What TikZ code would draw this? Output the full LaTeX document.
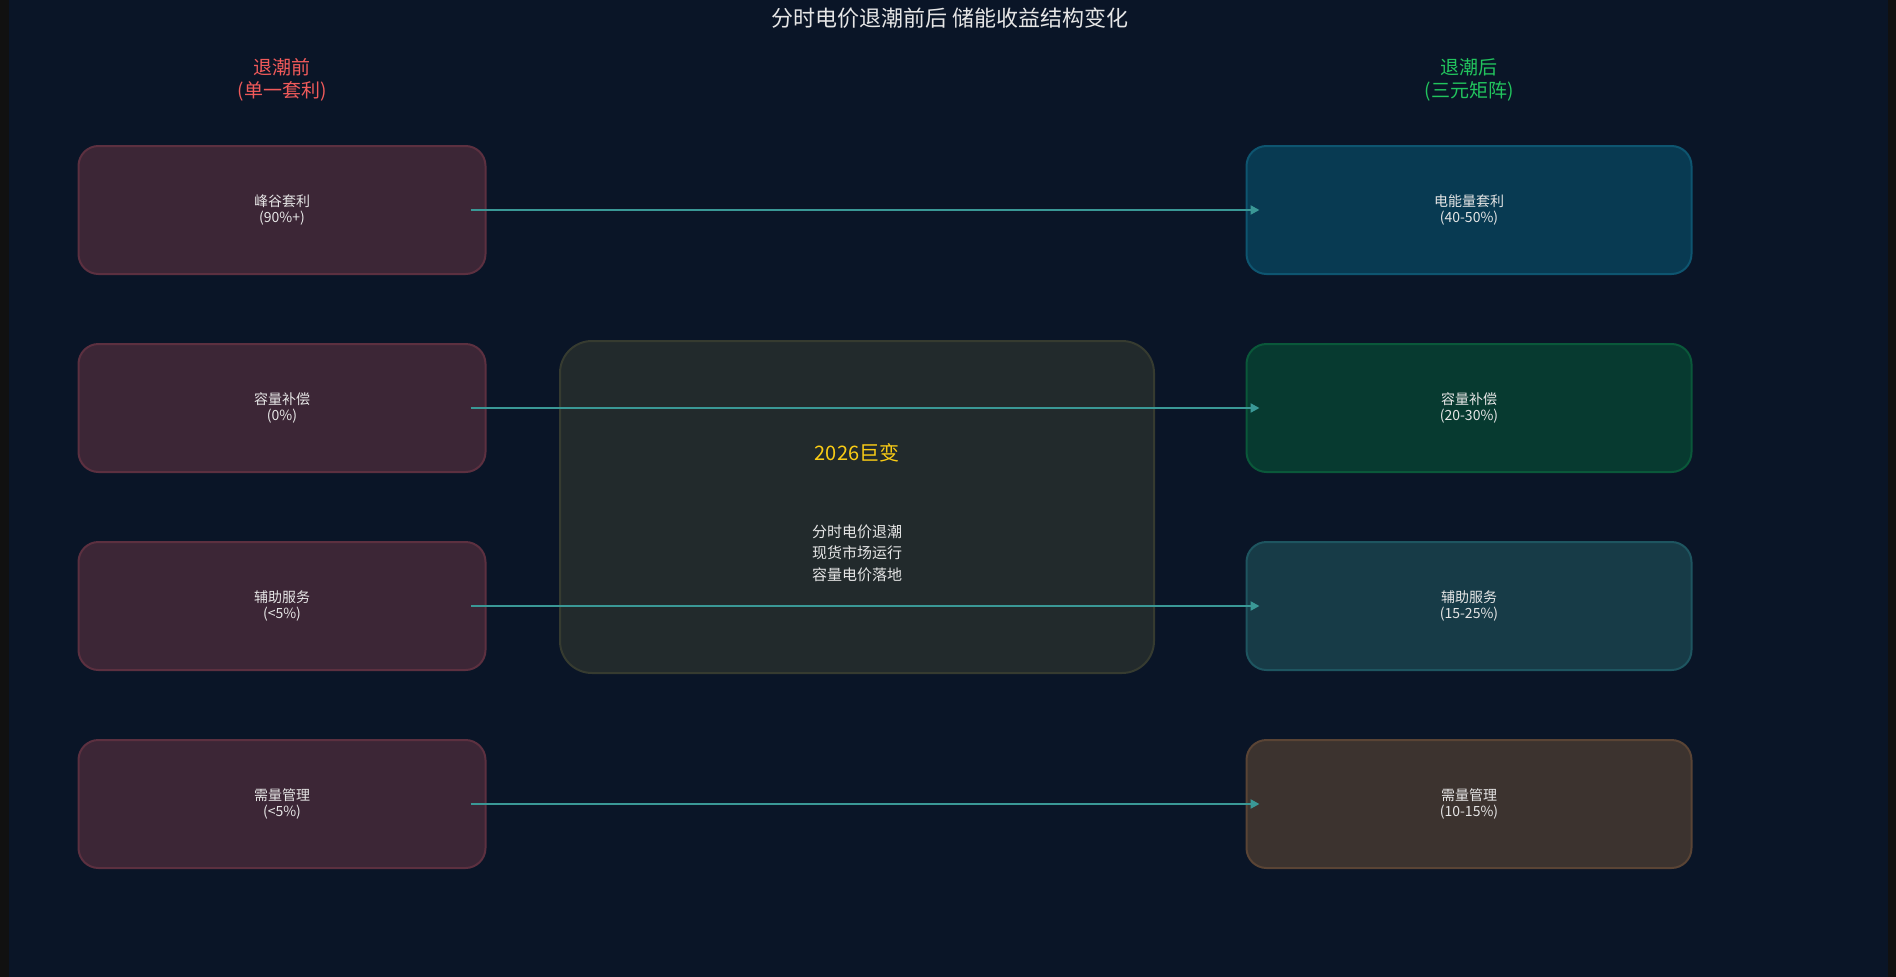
\documentclass[tikz,border=0pt]{standalone}
\usepackage{fontspec}
\setmainfont{Noto Sans CJK SC}
\usetikzlibrary{arrows.meta}
\definecolor{bg}{HTML}{0A1527}
\definecolor{strip}{HTML}{111111}
\definecolor{lfill}{HTML}{3C2636}
\definecolor{ldraw}{HTML}{5C3040}
\definecolor{cfill}{HTML}{222A2C}
\definecolor{cdraw}{HTML}{363B30}
\definecolor{arr}{HTML}{3A9896}
\definecolor{hred}{HTML}{F05A5A}
\definecolor{hgreen}{HTML}{22C55E}
\definecolor{ylw}{HTML}{FACC15}
\definecolor{txt}{HTML}{E6E6E6}
\begin{document}
\begin{tikzpicture}[x=1pt,y=-1pt,
 box/.style={rounded corners=20pt,line width=2pt,minimum width=407pt,minimum height=128pt,align=center,text=txt,font=\fontsize{14}{16}\selectfont},
 lbox/.style={box,fill=lfill,draw=ldraw},
 rbox/.style={box,minimum width=445pt},
 hdr/.style={align=center,font=\fontsize{19}{23}\selectfont},
 link/.style={arr,line width=2.5pt,-{Triangle[length=9pt,width=9pt]}}]
\fill[strip] (0,0) rectangle (1896,977);
\fill[bg] (9,0) rectangle (1888,977);
\useasboundingbox (0,0) rectangle (1896,977);
\node[text=txt,font=\fontsize{22}{26}\selectfont] (title) at (950,18) {分时电价退潮前后 储能收益结构变化};
\node[hdr,text=hred] (hl) at (282,80) {退潮前\\(单一套利)};
\node[hdr,text=hgreen] (hr) at (1469,80) {退潮后\\(三元矩阵)};
\node[rounded corners=32pt,line width=2pt,fill=cfill,draw=cdraw,minimum width=594pt,minimum height=332pt] (mid) at (857,507) {};
\node[text=ylw,font=\fontsize{20}{24}\selectfont] (mt) at (857,453) {2026巨变};
\node[text=txt,align=center,font=\fontsize{15}{21.5}\selectfont] (ms) at (857,553) {分时电价退潮\\现货市场运行\\容量电价落地};
\node[lbox] (l1) at (282,210) {峰谷套利\\(90\%+)};
\node[lbox] (l2) at (282,408) {容量补偿\\(0\%)};
\node[lbox] (l3) at (282,606) {辅助服务\\(<5\%)};
\node[lbox] (l4) at (282,804) {需量管理\\(<5\%)};
\node[rbox,fill={rgb,255:red,8;green,58;blue,82},draw={rgb,255:red,14;green,85;blue,112}] (r1) at (1469,210) {电能量套利\\(40-50\%)};
\node[rbox,fill={rgb,255:red,7;green,58;blue,48},draw={rgb,255:red,10;green,88;blue,58}] (r2) at (1469,408) {容量补偿\\(20-30\%)};
\node[rbox,fill={rgb,255:red,23;green,59;blue,71},draw={rgb,255:red,30;green,85;blue,96}] (r3) at (1469,606) {辅助服务\\(15-25\%)};
\node[rbox,fill={rgb,255:red,60;green,51;blue,47},draw={rgb,255:red,90;green,68;blue,53}] (r4) at (1469,804) {需量管理\\(10-15\%)};
\foreach \i in {1,2,3,4}{
 \draw[link] ([xshift=-16pt]l\i.east) -- ([xshift=14pt]r\i.west);
}
\end{tikzpicture}
\end{document}
